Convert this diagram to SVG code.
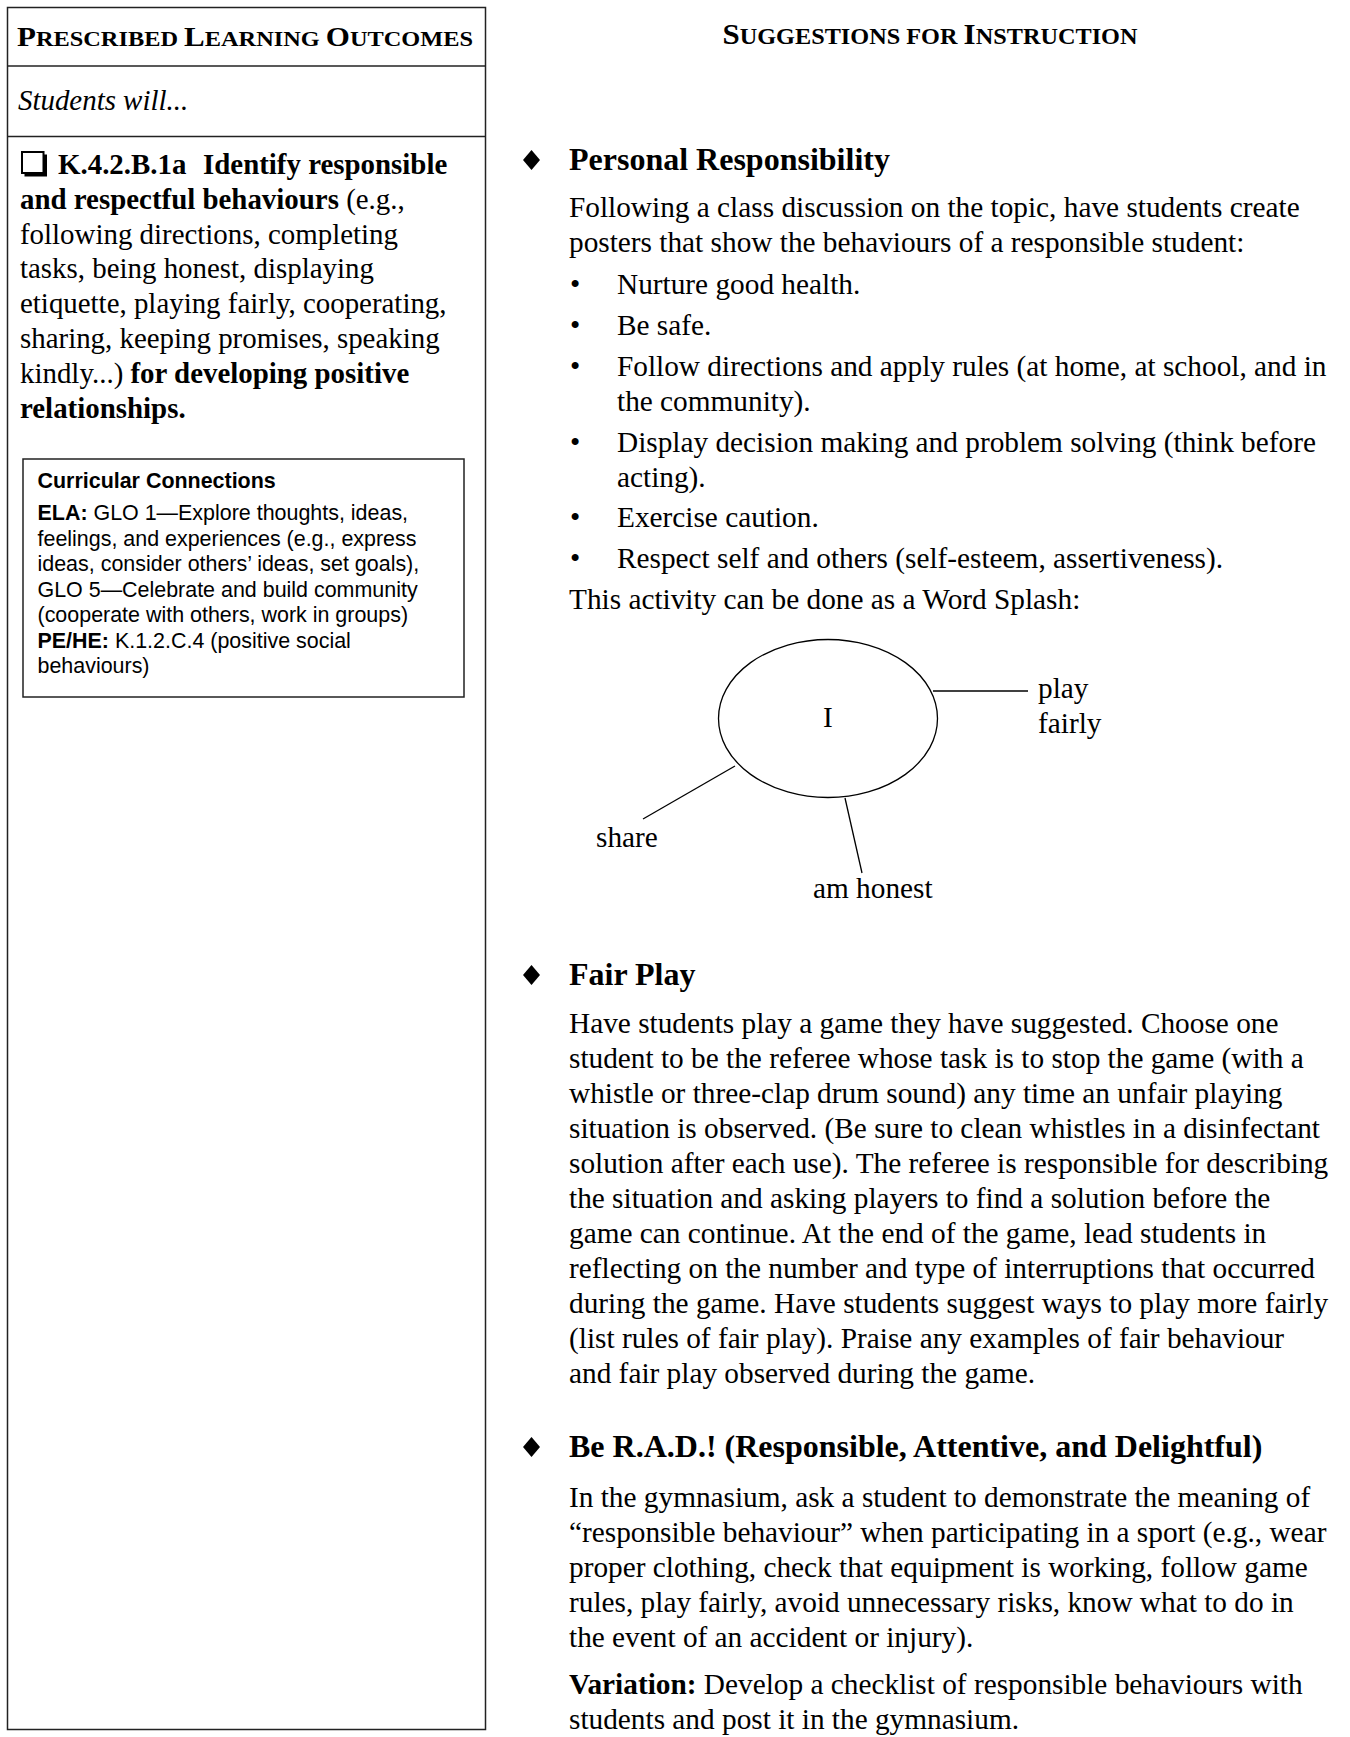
<svg xmlns="http://www.w3.org/2000/svg" width="1350" height="1737" viewBox="0 0 1350 1737">
<style>
.sf{font-family:"Liberation Serif","Times New Roman",serif;fill:#000}
.ss{font-family:"Liberation Sans",Arial,sans-serif;fill:#000}
.b{font-weight:bold}
.body{font-size:29.3px}
.lbody{font-size:28.9px}
.hd{font-size:32px;font-weight:bold}
.cc{font-size:21.45px}
.frame{fill:none;stroke:#222;stroke-width:1.5}
.conn{stroke:#000;stroke-width:1.3;fill:none}
.dia{fill:#000}
</style>
<rect width="1350" height="1737" fill="#fff"/>

<g id="outcomes-column">
  <rect class="frame" x="7.5" y="7.5" width="478" height="1722"/>
  <line class="frame" x1="7.5" y1="66" x2="485.5" y2="66"/>
  <line class="frame" x1="7.5" y1="136.5" x2="485.5" y2="136.5"/>
  <text class="sf b" x="17" y="46" textLength="456" lengthAdjust="spacingAndGlyphs"><tspan font-size="28">P</tspan><tspan font-size="22">RESCRIBED </tspan><tspan font-size="28">L</tspan><tspan font-size="22">EARNING </tspan><tspan font-size="28">O</tspan><tspan font-size="22">UTCOMES</tspan></text>
  <text class="sf lbody" x="18" y="110" font-style="italic">Students will...</text>
</g>

<g id="outcome-k42b1a">
  <rect x="24.5" y="154.5" width="22.5" height="22" fill="#000"/>
  <rect x="22" y="152" width="21.5" height="21" fill="#fff" stroke="#000" stroke-width="2"/>
  <text class="sf lbody b" y="174"><tspan x="58">K.4.2.B.1a</tspan><tspan x="203">Identify responsible</tspan></text>
  <text class="sf lbody" x="20" y="208.8"><tspan class="b">and respectful behaviours</tspan> (e.g.,</text>
  <text class="sf lbody" x="20" y="243.6">following directions, completing</text>
  <text class="sf lbody" x="20" y="278.4">tasks, being honest, displaying</text>
  <text class="sf lbody" x="20" y="313.2">etiquette, playing fairly, cooperating,</text>
  <text class="sf lbody" x="20" y="348">sharing, keeping promises, speaking</text>
  <text class="sf lbody" x="20" y="382.8">kindly...) <tspan class="b">for developing positive</tspan></text>
  <text class="sf lbody b" x="20" y="417.6">relationships.</text>
</g>

<g id="curricular-connections">
  <rect class="frame" x="23" y="459" width="441" height="238"/>
  <text class="ss cc b" x="37.5" y="488">Curricular Connections</text>
  <text class="ss cc" x="37.5" y="520"><tspan class="b">ELA:</tspan> GLO 1—Explore thoughts, ideas,</text>
  <text class="ss cc" x="37.5" y="545.5">feelings, and experiences (e.g., express</text>
  <text class="ss cc" x="37.5" y="571">ideas, consider others’ ideas, set goals),</text>
  <text class="ss cc" x="37.5" y="596.5">GLO 5—Celebrate and build community</text>
  <text class="ss cc" x="37.5" y="622">(cooperate with others, work in groups)</text>
  <text class="ss cc" x="37.5" y="647.5"><tspan class="b">PE/HE:</tspan> K.1.2.C.4 (positive social</text>
  <text class="ss cc" x="37.5" y="673">behaviours)</text>
</g>

<g id="instruction-header">
  <text class="sf b" x="930" y="44" text-anchor="middle" textLength="415" lengthAdjust="spacingAndGlyphs"><tspan font-size="30">S</tspan><tspan font-size="23.5">UGGESTIONS FOR </tspan><tspan font-size="30">I</tspan><tspan font-size="23.5">NSTRUCTION</tspan></text>
</g>

<g id="personal-responsibility">
  <polygon class="dia" points="531.5,150 540,160 531.5,170 523,160"/>
  <text class="sf hd" x="569" y="170">Personal Responsibility</text>
  <text class="sf body" x="569" y="217">Following a class discussion on the topic, have students create</text>
  <text class="sf body" x="569" y="252">posters that show the behaviours of a responsible student:</text>
  <text class="sf body" x="570" y="294">•</text>
  <text class="sf body" x="617" y="294">Nurture good health.</text>
  <text class="sf body" x="570" y="335">•</text>
  <text class="sf body" x="617" y="335">Be safe.</text>
  <text class="sf body" x="570" y="376">•</text>
  <text class="sf body" x="617" y="376">Follow directions and apply rules (at home, at school, and in</text>
  <text class="sf body" x="617" y="411">the community).</text>
  <text class="sf body" x="570" y="452">•</text>
  <text class="sf body" x="617" y="452">Display decision making and problem solving (think before</text>
  <text class="sf body" x="617" y="487">acting).</text>
  <text class="sf body" x="570" y="527">•</text>
  <text class="sf body" x="617" y="527">Exercise caution.</text>
  <text class="sf body" x="570" y="568">•</text>
  <text class="sf body" x="617" y="568">Respect self and others (self-esteem, assertiveness).</text>
  <text class="sf body" x="569" y="609">This activity can be done as a Word Splash:</text>
</g>

<g id="splash-connectors">
  <line class="conn" x1="933" y1="691" x2="1028" y2="691"/>
  <line class="conn" x1="735" y1="766" x2="643" y2="819"/>
  <line class="conn" x1="845" y1="798" x2="862" y2="873"/>
</g>
<g id="splash-center">
  <ellipse cx="828" cy="718.5" rx="109.5" ry="79" fill="none" stroke="#000" stroke-width="1.3"/>
  <text class="sf body" x="828" y="727" text-anchor="middle">I</text>
</g>
<g id="splash-play-fairly">
  <text class="sf body" x="1038" y="698">play</text>
  <text class="sf body" x="1038" y="733">fairly</text>
</g>
<g id="splash-share">
  <text class="sf body" x="596" y="847">share</text>
</g>
<g id="splash-am-honest">
  <text class="sf body" x="813" y="898">am honest</text>
</g>

<g id="fair-play">
  <polygon class="dia" points="531.5,965 540,975 531.5,985 523,975"/>
  <text class="sf hd" x="569" y="985">Fair Play</text>
  <text class="sf body" x="569" y="1033">Have students play a game they have suggested. Choose one</text>
  <text class="sf body" x="569" y="1068">student to be the referee whose task is to stop the game (with a</text>
  <text class="sf body" x="569" y="1103">whistle or three-clap drum sound) any time an unfair playing</text>
  <text class="sf body" x="569" y="1138">situation is observed. (Be sure to clean whistles in a disinfectant</text>
  <text class="sf body" x="569" y="1173">solution after each use). The referee is responsible for describing</text>
  <text class="sf body" x="569" y="1208">the situation and asking players to find a solution before the</text>
  <text class="sf body" x="569" y="1243">game can continue. At the end of the game, lead students in</text>
  <text class="sf body" x="569" y="1278">reflecting on the number and type of interruptions that occurred</text>
  <text class="sf body" x="569" y="1313">during the game. Have students suggest ways to play more fairly</text>
  <text class="sf body" x="569" y="1348">(list rules of fair play). Praise any examples of fair behaviour</text>
  <text class="sf body" x="569" y="1383">and fair play observed during the game.</text>
</g>

<g id="be-rad">
  <polygon class="dia" points="531.5,1437 540,1447 531.5,1457 523,1447"/>
  <text class="sf hd" x="569" y="1457">Be R.A.D.! (Responsible, Attentive, and Delightful)</text>
  <text class="sf body" x="569" y="1507">In the gymnasium, ask a student to demonstrate the meaning of</text>
  <text class="sf body" x="569" y="1542">“responsible behaviour” when participating in a sport (e.g., wear</text>
  <text class="sf body" x="569" y="1577">proper clothing, check that equipment is working, follow game</text>
  <text class="sf body" x="569" y="1612">rules, play fairly, avoid unnecessary risks, know what to do in</text>
  <text class="sf body" x="569" y="1647">the event of an accident or injury).</text>
  <text class="sf body" x="569" y="1694"><tspan class="b">Variation:</tspan> Develop a checklist of responsible behaviours with</text>
  <text class="sf body" x="569" y="1729">students and post it in the gymnasium.</text>
</g>
</svg>
